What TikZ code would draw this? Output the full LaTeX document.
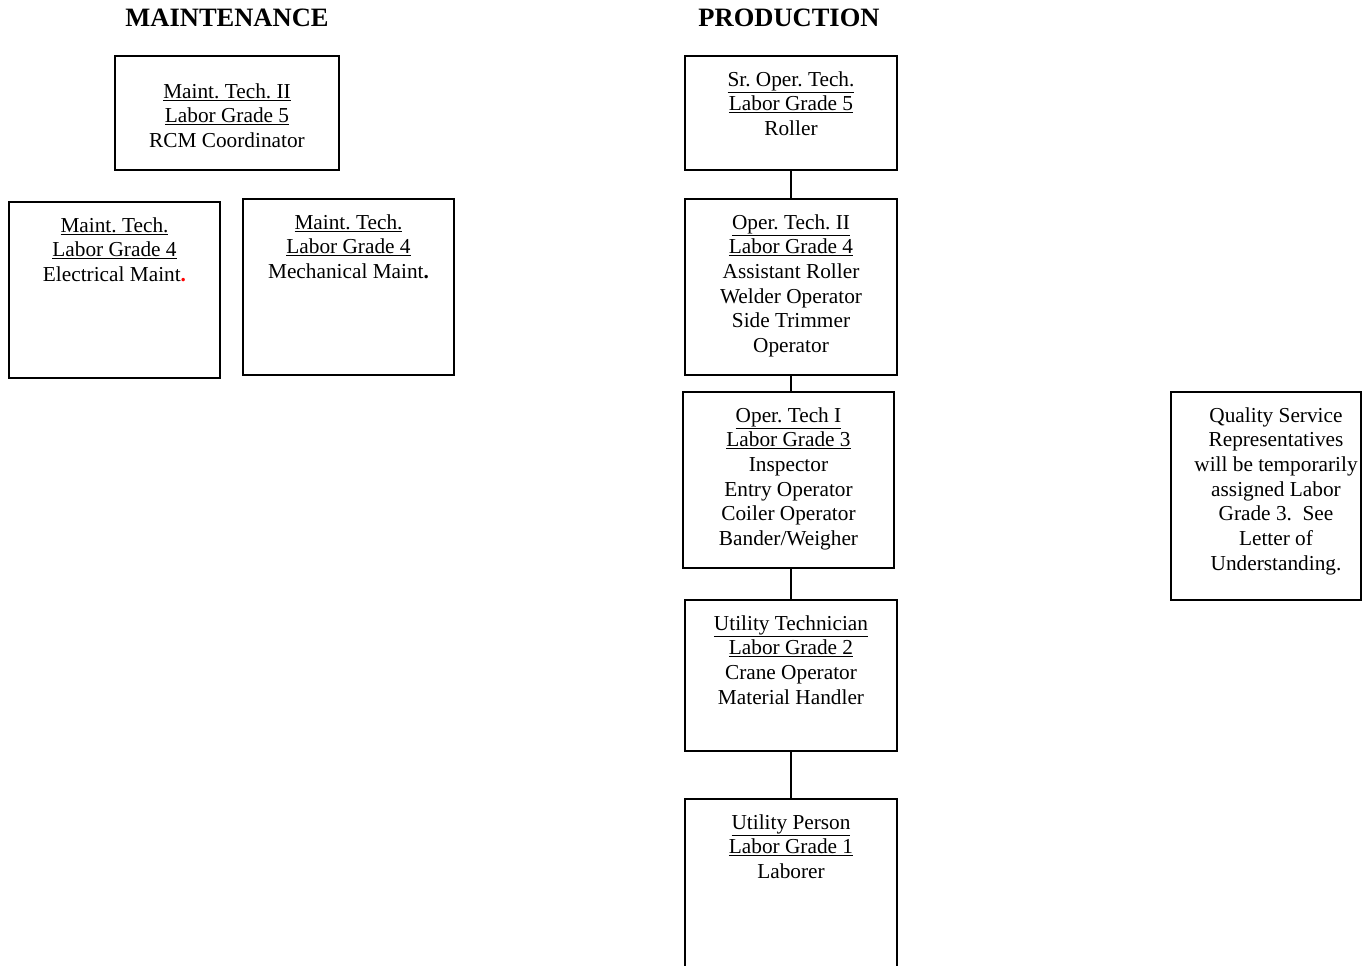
\documentclass[tikz,border=0pt]{standalone}
\usepackage{fontspec}
\setmainfont{Liberation Serif}
\usepackage{xcolor}
\frenchspacing
\begin{document}
\begin{tikzpicture}[x=1pt,y=-1pt,
  box/.style={draw, line width=1.8pt, inner sep=0pt},
  txt/.style={align=center, inner sep=0pt, anchor=north,
    font=\fontsize{21.3}{24.7}\selectfont},
  head/.style={font=\fontsize{26.5}{30}\selectfont\bfseries, anchor=base, inner sep=0pt},
  link/.style={line width=1.8pt}]
\useasboundingbox (0,0) rectangle (1366,966);

% column headings
\node[head] (hmaint) at (227,27) {MAINTENANCE};
\node[head] (hprod) at (789,27) {PRODUCTION};

% maintenance boxes
\node[box, minimum width=224pt, minimum height=114pt] (mt2) at (227,113) {};
\node[box, minimum width=211pt, minimum height=176pt] (elec) at (114.5,290) {};
\node[box, minimum width=211pt, minimum height=176pt] (mech) at (348.5,287) {};

\node[txt] (mt2t) at ([yshift=-28pt]mt2.north) {\underline{Maint. Tech. II}\\\underline{Labor Grade 5}\\RCM Coordinator};
\node[txt] (elect) at ([yshift=-16pt]elec.north) {\underline{Maint. Tech.}\\\underline{Labor Grade 4}\\Electrical Maint{\color{red}\textbf{.}}};
\node[txt] (mecht) at ([yshift=-16pt]mech.north) {\underline{Maint. Tech.}\\\underline{Labor Grade 4}\\Mechanical Maint\textbf{.}};

% production ladder
\node[box, minimum width=212pt, minimum height=114pt] (sr) at (791,113) {};
\node[box, minimum width=212pt, minimum height=176pt] (op2) at (791,287) {};
\node[box, minimum width=211pt, minimum height=176pt] (op1) at (788.5,480) {};
\node[box, minimum width=212pt, minimum height=151pt] (ut) at (791,675.5) {};
\node[box, minimum width=212pt, minimum height=172pt] (up) at (791,885) {};

\node[txt] (srt) at ([yshift=-16pt]sr.north) {\underline{Sr. Oper. Tech.}\\\underline{Labor Grade 5}\\Roller};
\node[txt] (op2t) at ([yshift=-16pt]op2.north) {\underline{Oper. Tech. II}\\\underline{Labor Grade 4}\\Assistant Roller\\Welder Operator\\Side Trimmer\\Operator};
\node[txt] (op1t) at ([yshift=-16pt]op1.north) {\underline{Oper. Tech I}\\\underline{Labor Grade 3}\\Inspector\\Entry Operator\\Coiler Operator\\Bander/Weigher};
\node[txt] (utt) at ([yshift=-16pt]ut.north) {\underline{Utility Technician}\\\underline{Labor Grade 2}\\Crane Operator\\Material Handler};
\node[txt] (upt) at ([yshift=-16pt]up.north) {\underline{Utility Person}\\\underline{Labor Grade 1}\\Laborer};

\draw[link] (sr.south) -- (sr.south |- op2.north);
\draw[link] (op2.south) -- (op2.south |- op1.north);
\draw[link] (op1.south -| op2.south) -- (ut.north);
\draw[link] (ut.south) -- (up.north);

% side note
\node[box, minimum width=190pt, minimum height=208pt] (qs) at (1266,496) {};
\node[txt] (qst) at ([xshift=10pt, yshift=-16pt]qs.north) {Quality Service\\Representatives\\will be temporarily\\assigned Labor\\Grade 3.\ \ See\\Letter of\\Understanding.};
\end{tikzpicture}
\end{document}
